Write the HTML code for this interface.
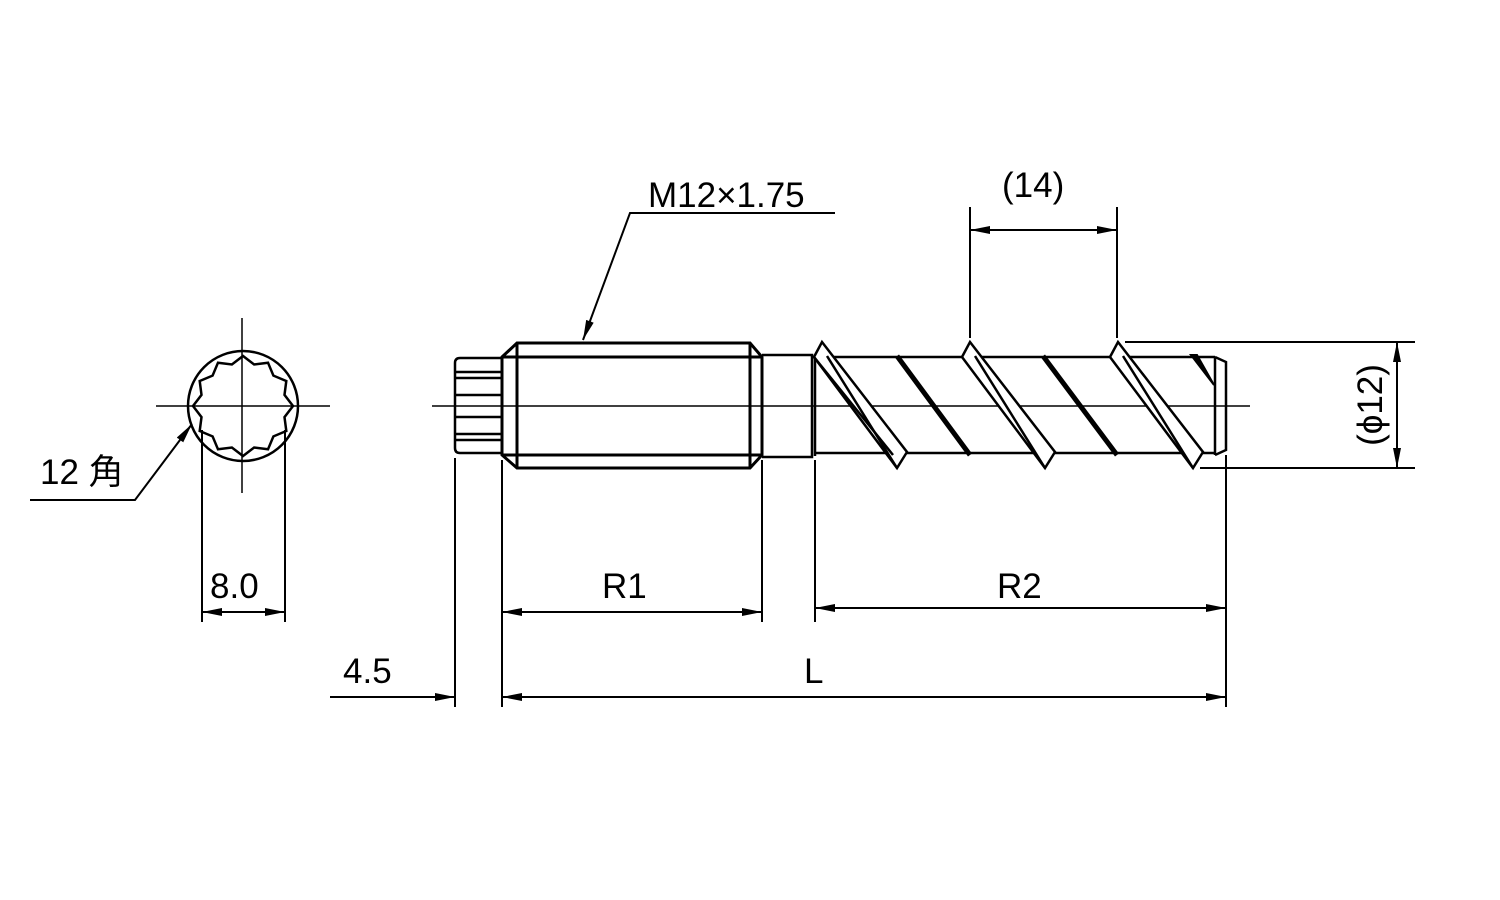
<!DOCTYPE html>
<html><head><style>body{margin:0;background:#fff}svg{display:block}text{font-family:"Liberation Sans","Noto Sans CJK JP",sans-serif;fill:#000}</style></head>
<body>
<svg width="1500" height="900" viewBox="0 0 1500 900" xmlns="http://www.w3.org/2000/svg">
<defs>
<marker id="a" viewBox="0 0 20 8" refX="20" refY="4" markerWidth="20" markerHeight="8" markerUnits="userSpaceOnUse" orient="auto-start-reverse"><path d="M0,0L20,4L0,8z" fill="#000"/></marker>
</defs>
<g stroke="#000" fill="none" stroke-width="2">
<!-- end view -->
<line x1="242" y1="318" x2="242" y2="493" stroke-width="1.5"/>
<line x1="156" y1="406" x2="330" y2="406" stroke-width="1.5"/>
<circle cx="243" cy="406" r="55" stroke-width="2.5"/>
<polygon stroke-width="2.5" points="293,406 284.5,394.9 286.3,381 273.4,375.6 268,362.7 254.1,364.5 243,356 231.9,364.5 218,362.7 212.6,375.6 199.7,381 201.5,394.9 193,406 201.5,417.1 199.7,431 212.6,436.4 218,449.3 231.9,447.5 243,456 254.1,447.5 268,449.3 273.4,436.4 286.3,431 284.5,417.1"/>
<line x1="202" y1="430" x2="202" y2="622"/>
<line x1="285" y1="430" x2="285" y2="622"/>
<line x1="202" y1="612" x2="285" y2="612" marker-start="url(#a)" marker-end="url(#a)"/>
<polyline points="30,500 135,500 192,424" marker-end="url(#a)"/>
<!-- centerline -->
<line x1="432" y1="406" x2="1250" y2="406" stroke-width="1.5"/>
<!-- knurled head -->
<path d="M502,358 L460,358 Q455,358 455,363 L455,448 Q455,453 460,453 L502,453" stroke-width="2.5"/>
<g stroke-width="2.5"><line x1="456" y1="372" x2="502" y2="372"/><line x1="456" y1="378" x2="502" y2="378"/><line x1="456" y1="395" x2="502" y2="395"/><line x1="456" y1="417" x2="502" y2="417"/><line x1="456" y1="434" x2="502" y2="434"/><line x1="456" y1="440" x2="502" y2="440"/></g>
<!-- thread -->
<polygon stroke-width="3" points="502,357 517,343 750,343 762,357 762,455 750,468 517,468 502,455"/>
<line x1="502" y1="357" x2="762" y2="357" stroke-width="3"/>
<line x1="502" y1="455" x2="762" y2="455" stroke-width="3"/>
<line x1="517" y1="343" x2="517" y2="468" stroke-width="3"/>
<line x1="750" y1="343" x2="750" y2="468" stroke-width="3"/>
<!-- neck -->
<polyline points="762,355 812,355 812,457 762,457" stroke-width="2.5"/>
<line x1="815" y1="356" x2="815" y2="456" stroke-width="2.5"/>
<!-- core -->
<line x1="815" y1="357" x2="1215" y2="357" stroke-width="2.5"/>
<line x1="815" y1="453" x2="1215" y2="453" stroke-width="2.5"/>
<polyline points="1215,357 1226,362 1226,450 1215,455" stroke-width="2.5"/>
<line x1="1215" y1="357" x2="1215" y2="455" stroke-width="2.5"/>
<!-- thick flights -->
<g stroke-width="2.5">
<polygon points="814,357 822,342 907,452 897,468" fill="#fff"/><line x1="827" y1="356" x2="897" y2="468"/><line x1="814" y1="357" x2="893" y2="455"/>
<polygon points="962,357 970,342 1055,452 1045,468" fill="#fff"/><line x1="975" y1="356" x2="1045" y2="468"/>
<polygon points="1110,357 1118,342 1203,452 1193,468" fill="#fff"/><line x1="1123" y1="356" x2="1193" y2="468"/>
</g>
<!-- thin flights -->
<g stroke-width="5"><line x1="897" y1="356" x2="970" y2="455"/><line x1="1043" y1="356" x2="1117" y2="455"/></g>
<polygon points="1191,355 1197,355 1214,385" fill="#000" stroke-width="2"/>
<!-- extension lines -->
<g stroke-width="2">
<line x1="455" y1="458" x2="455" y2="707"/>
<line x1="502" y1="460" x2="502" y2="707"/>
<line x1="762" y1="460" x2="762" y2="622"/>
<line x1="815" y1="460" x2="815" y2="622"/>
<line x1="1226" y1="455" x2="1226" y2="707"/>
<line x1="970" y1="207" x2="970" y2="338"/>
<line x1="1117" y1="207" x2="1117" y2="338"/>
<line x1="1125" y1="342" x2="1415" y2="342"/>
<line x1="1200" y1="468" x2="1415" y2="468"/>
</g>
<!-- dims -->
<line x1="502" y1="612" x2="762" y2="612" marker-start="url(#a)" marker-end="url(#a)"/>
<line x1="815" y1="608" x2="1226" y2="608" marker-start="url(#a)" marker-end="url(#a)"/>
<line x1="502" y1="697" x2="1226" y2="697" marker-start="url(#a)" marker-end="url(#a)"/>
<line x1="330" y1="697" x2="455" y2="697" marker-end="url(#a)"/>
<line x1="970" y1="230" x2="1117" y2="230" marker-start="url(#a)" marker-end="url(#a)"/>
<line x1="1397" y1="342" x2="1397" y2="468" marker-start="url(#a)" marker-end="url(#a)"/>
<polyline points="835,213 630,213 583,340" marker-end="url(#a)"/>
</g>
<g font-size="35">
<text x="648" y="207">M12×1.75</text>
<text x="1002" y="197">(14)</text>
<text x="602" y="598">R1</text>
<text x="997" y="598">R2</text>
<text x="804" y="683">L</text>
<text x="343" y="683">4.5</text>
<text x="210" y="598">8.0</text>
<text x="40" y="484">12 角</text>
<text transform="translate(1382,405) rotate(-90)" text-anchor="middle">(ϕ12)</text>
</g>
</svg>
</body></html>
